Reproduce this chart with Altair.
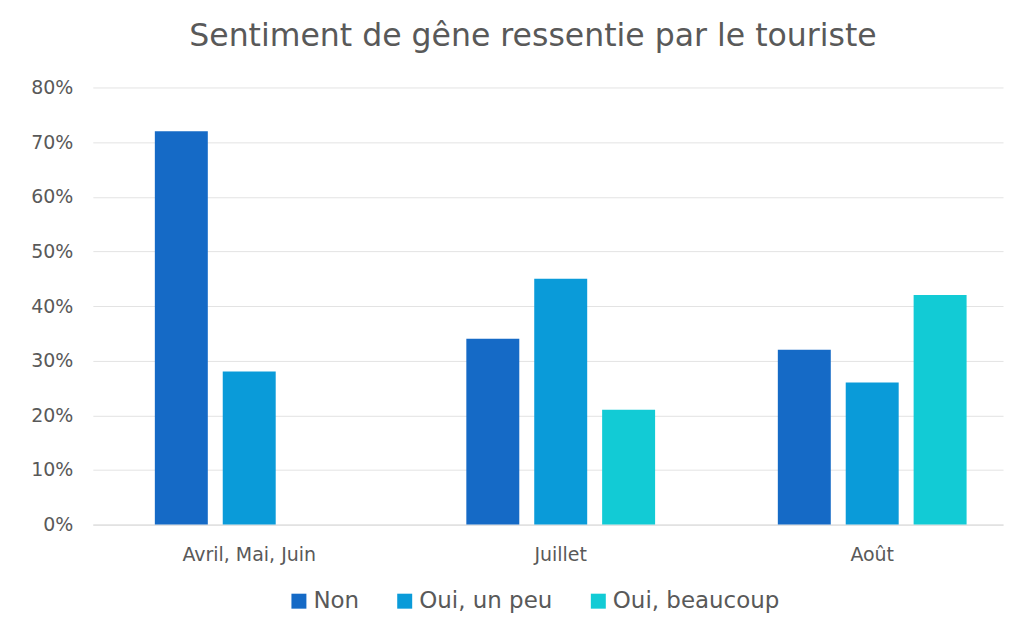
import altair as alt
import pandas as pd

periodes = ["Avril, Mai, Juin", "Juillet", "Août"]
reponses = ["Non", "Oui, un peu", "Oui, beaucoup"]
non = [0.72, 0.34, 0.32]
un_peu = [0.28, 0.45, 0.26]
beaucoup = [None, 0.21, 0.42]
couleurs = ["#156ac6", "#0a9bd9", "#12cbd5"]

rows = []
for i, p in enumerate(periodes):
    for r, serie in zip(reponses, [non, un_peu, beaucoup]):
        if serie[i] is not None:
            rows.append({"Période": p, "Réponse": r, "Valeur": serie[i]})
df = pd.DataFrame(rows)

font = "DejaVu Sans"
grey = "#595959"

chart = alt.Chart(df).mark_bar().encode(
    x=alt.X("Période:N", sort=periodes, title=None,
            scale=alt.Scale(paddingInner=0.394, paddingOuter=0.158, align=0.63),
            axis=alt.Axis(labelAngle=0, ticks=False, domain=True, domainColor="#d9d9d9",
                          labelFont=font, labelFontSize=19, labelColor=grey, labelPadding=21)),
    xOffset=alt.XOffset("Réponse:N", sort=reponses,
                        scale=alt.Scale(paddingInner=0.22, paddingOuter=0)),
    y=alt.Y("Valeur:Q", title=None,
            scale=alt.Scale(domain=[0, 0.8]),
            axis=alt.Axis(format=".0%", values=[i / 10 for i in range(9)], ticks=False,
                          domain=False, gridColor="#e3e3e3", labelFont=font,
                          labelFontSize=19, labelColor=grey, labelPadding=20)),
    color=alt.Color("Réponse:N", sort=reponses,
                    scale=alt.Scale(domain=reponses, range=couleurs),
                    legend=alt.Legend(title=None, orient="none", direction="horizontal",
                                      legendX=195, legendY=503,
                                      symbolType="square", symbolSize=225,
                                      labelFont=font, labelFontSize=23, labelColor=grey,
                                      labelLimit=400,
                                      labelOffset=3, columnPadding=34, symbolStrokeWidth=0)),
).properties(
    width=912, height=438,
    title=alt.Title("Sentiment de gêne ressentie par le touriste", font=font, fontSize=31.6,
                    fontWeight="normal", color=grey, offset=26, dx=-15),
    autosize=alt.AutoSizeParams(type="none"),
    padding={"left": 85, "top": 79, "right": 5, "bottom": 100},
).configure_view(stroke=None)

chart.save("out.html", embed_options={"renderer": "svg", "actions": False})
